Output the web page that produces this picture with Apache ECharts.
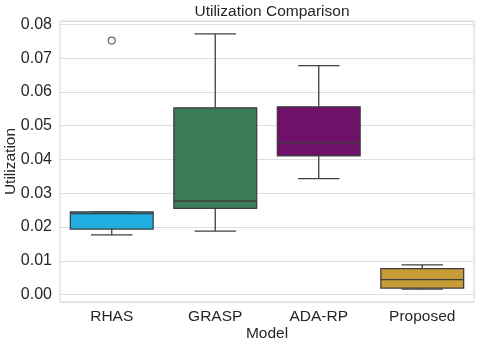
<!DOCTYPE html>
<html>
<head>
<meta charset="utf-8">
<script src="https://cdn.jsdelivr.net/npm/echarts@6/dist/echarts.min.js"></script>
<style>html,body{margin:0;padding:0;background:#fff;}#c{width:480px;height:342px;}</style>
</head>
<body>
<div id="c"></div>
<script>
const categories = ['RHAS', 'GRASP', 'ADA-RP', 'Proposed'];
const whiskerLow = [0.0177, 0.0188, 0.0343, 0.0016];
const q1 = [0.0194, 0.0255, 0.0411, 0.0019];
const median = [0.0240, 0.0277, 0.0450, 0.0044];
const q3 = [0.0245, 0.0553, 0.0556, 0.0077];
const whiskerHigh = [0.0245, 0.0772, 0.0678, 0.0088];
const boxColors = ['#20aee0', '#3a7d58', '#6f106b', '#c89c37'];
const outlierCategory = ['RHAS'];
const outlierValue = [0.0752];
const yTickLabels = ['0.00', '0.01', '0.02', '0.03', '0.04', '0.05', '0.06', '0.07', '0.08'];

const FONT = 'Liberation Sans, Arial, sans-serif';
const TEXT = '#262626';
const EDGE = '#3f3f3f';

const boxData = categories.map((c, i) => [i, whiskerLow[i], q1[i], median[i], q3[i], whiskerHigh[i]]);
const outlierData = outlierCategory.map((c, i) => [categories.indexOf(c), outlierValue[i]]);

const chart = echarts.init(document.getElementById('c'), null, {renderer: 'canvas'});
chart.setOption({
  backgroundColor: '#ffffff',
  animation: false,
  title: {
    text: 'Utilization Comparison',
    left: 267, textAlign: 'center', top: -1,
    textStyle: {fontFamily: FONT, fontSize: 15.5, fontWeight: 'normal', color: TEXT}
  },
  grid: {left: 60, right: 6, top: 21, bottom: 40, show: true, borderColor: '#d4d4d4', borderWidth: 1,
    containLabel: false, outerBoundsMode: 'none'},
  xAxis: {
    type: 'category', data: categories, boundaryGap: true,
    name: 'Model', nameLocation: 'middle', nameGap: 24, nameMoveOverlap: false,
    nameTextStyle: {fontFamily: FONT, fontSize: 15.5, color: TEXT},
    axisLine: {show: false}, axisTick: {show: false},
    axisLabel: {fontFamily: FONT, fontSize: 15.5, color: TEXT, margin: 7},
    splitLine: {show: false}
  },
  yAxis: {
    type: 'value', min: -0.0022, max: 0.081, splitNumber: 8,
    name: 'Utilization', nameLocation: 'middle', nameGap: 41, nameMoveOverlap: false,
    nameTextStyle: {fontFamily: FONT, fontSize: 15.5, color: TEXT},
    axisLine: {show: false}, axisTick: {show: false},
    axisLabel: {
      fontFamily: FONT, fontSize: 16, color: TEXT, margin: 8,
      showMinLabel: false, showMaxLabel: false,
      formatter: function (v) {
        const k = Math.round(v * 100);
        if (Math.abs(v * 100 - k) > 1e-6) return '';
        return yTickLabels[k] !== undefined ? yTickLabels[k] : '';
      }
    },
    splitLine: {show: true, lineStyle: {color: '#dedede', width: 1}}
  },
  series: [
    {
      type: 'custom',
      data: boxData,
      encode: {x: 0, y: [1, 2, 3, 4, 5]},
      renderItem: function (params, api) {
        const i = api.value(0);
        const band = api.size([1, 0])[0];
        const bw = band * 0.8;
        const cw = bw * 0.5;
        const pLow = api.coord([i, api.value(1)]);
        const pQ1 = api.coord([i, api.value(2)]);
        const pMed = api.coord([i, api.value(3)]);
        const pQ3 = api.coord([i, api.value(4)]);
        const pHigh = api.coord([i, api.value(5)]);
        const x = pQ1[0];
        const ls = {stroke: EDGE, lineWidth: 1.3};
        return {
          type: 'group',
          children: [
            {type: 'line', shape: {x1: x, y1: pLow[1], x2: x, y2: pQ1[1]}, style: ls},
            {type: 'line', shape: {x1: x, y1: pQ3[1], x2: x, y2: pHigh[1]}, style: ls},
            {type: 'line', shape: {x1: x - cw / 2, y1: pLow[1], x2: x + cw / 2, y2: pLow[1]}, style: ls},
            {type: 'line', shape: {x1: x - cw / 2, y1: pHigh[1], x2: x + cw / 2, y2: pHigh[1]}, style: ls},
            {type: 'rect', shape: {x: x - bw / 2, y: pQ3[1], width: bw, height: pQ1[1] - pQ3[1]},
              style: {fill: boxColors[params.dataIndex], stroke: EDGE, lineWidth: 1.3}},
            {type: 'line', shape: {x1: x - bw / 2, y1: pMed[1], x2: x + bw / 2, y2: pMed[1]}, style: ls}
          ]
        };
      }
    },
    {
      type: 'scatter',
      data: outlierData,
      symbol: 'circle', symbolSize: 7,
      itemStyle: {color: '#ffffff', borderColor: EDGE, borderWidth: 1.2}
    }
  ]
});
</script>
</body>
</html>
